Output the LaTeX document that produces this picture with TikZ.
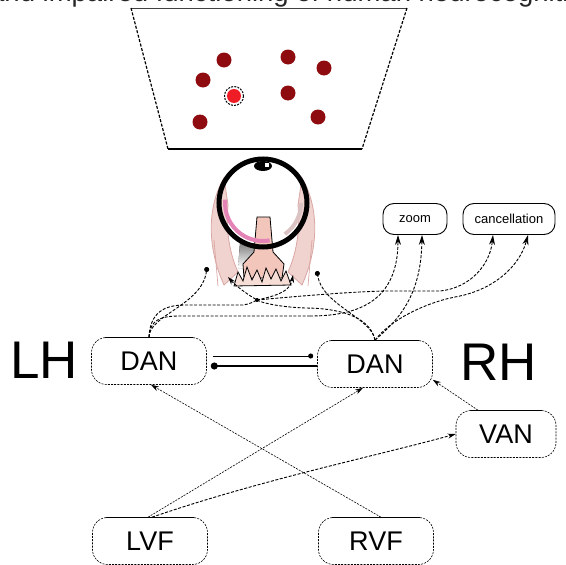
\documentclass[tikz,border=0pt]{standalone}
\usepackage{fontspec}
\setmainfont{Liberation Sans}
\usetikzlibrary{arrows.meta,calc}
\definecolor{dotred}{HTML}{8E0C10}
\definecolor{hotred}{HTML}{EE1C24}
\definecolor{lobe}{HTML}{F0D2CE}
\definecolor{lobeedge}{HTML}{D9A7A4}
\definecolor{stalk}{HTML}{F3C6BC}
\definecolor{chiasm}{HTML}{F6DDD6}
\definecolor{shade}{HTML}{7F8C8A}
\definecolor{retina}{HTML}{E483B5}
\definecolor{retinab}{HTML}{DCC3C3}
\begin{document}
\begin{tikzpicture}[x=1pt,y=-1pt,
  dsh/.style={line width=0.9pt, dash pattern=on 3pt off 1.6pt},
  fine/.style={line width=0.6pt, dash pattern=on 2pt off 1.2pt},
  box/.style={draw, fine, rounded corners=15pt, minimum width=115pt,
    minimum height=47pt, inner sep=0pt, font=\fontsize{27}{27}\selectfont},
  tagbox/.style={draw, line width=0.9pt, rounded corners=11pt,
    minimum height=31pt, inner sep=0pt, font=\fontsize{13}{13}\selectfont},
  big/.style={font=\fontsize{53}{53}\selectfont},
  tip/.style={-{Stealth[length=10pt,width=6pt]}},
  smalltip/.style={-{Stealth[length=8pt,width=5pt]}},
  dottip/.style={-{Circle[length=5pt]}},
]
\useasboundingbox (0,0) rectangle (566,565);
\clip (0,0) rectangle (566,565);

% caption line running off the top edge
\node[anchor=base west, inner sep=0pt, text=black!85,
  font=\fontsize{27.5}{27.5}\selectfont] (caption) at (-11,1)
  {and impaired functioning of human neurocognition};

% screen with targets
\draw[line width=0.9pt, black!75] (131,8) -- (407,8);
\draw[line width=1.3pt] (168,149) -- (362,149);
\draw[dsh, line width=1.2pt] (131,8) -- (168,149);
\draw[dsh, line width=1.2pt] (407,8) -- (362,149);
\foreach \p in {(224,60),(288,57),(324,68),(203,80),(288,93),(200,122),(318,117)}
  \fill[dotred] \p circle (7.5);
\fill[hotred] (234,96) circle (7);
\draw[line width=1pt, dash pattern=on 2pt off 1.2pt] (234,96) circle (9.5);

% eye and visual pathway
\fill[lobe, draw=lobeedge, line width=0.8pt]
  (224,178) .. controls (208,205) and (206,245) .. (224,285)
  -- (238,272) .. controls (228,250) and (226,225) .. (228,205) -- cycle;
\fill[lobe, draw=lobeedge, line width=0.8pt]
  (302,178) .. controls (318,205) and (320,245) .. (302,285)
  -- (288,272) .. controls (298,250) and (300,225) .. (298,205) -- cycle;
\draw[lobeedge, line width=0.7pt] (214,240) -- (218,286);
\draw[lobeedge, line width=0.7pt] (312,240) -- (308,286);
\fill[shade] (240,243) -- (254,243) -- (254,268) -- (238,268) -- cycle;
\filldraw[fill=stalk, draw=black, line width=0.8pt]
  (257,217) -- (270,217) -- (273,252) -- (284,264) -- (282,278)
  -- (244,278) -- (243,264) -- (254,252) -- cycle;
\filldraw[fill=chiasm, draw=black, line width=0.8pt]
  (234,286) -- (238,272) -- (243,281) -- (247,267) -- (252,280) -- (257,270)
  -- (262,282) -- (266,268) -- (271,279) -- (276,269) -- (281,281)
  -- (286,271) -- (291,285) -- cycle;
% retina (angles run clockwise because the y axis points down)
\draw[retina, line width=4pt] (263,203) ++(185:38) arc (185:80:38);
\draw[retinab, line width=4pt] (263,203) ++(0:38) arc (0:55:38);
\draw[line width=5pt] (263,203) circle (44);
\fill (263,166) ellipse (9 and 5);
\fill[white] (265,163) rectangle (269,167);

% points where the pathways end
\coordinate (ldot) at (207,267);
\coordinate (larr) at (228,277);
\coordinate (rarr) at (293,275);
\coordinate (rdot) at (317,271);
\coordinate (mid) at (257,300);

% nodes
\node[big] (lh) at (44,360) {LH};
\node[big] (rh) at (499,362) {RH};
\node[box] (ldan) at (149,361) {DAN};
\node[box] (rdan) at (375,364) {DAN};
\node[box, minimum width=100pt] (van) at (506,434) {VAN};
\node[box] (lvf) at (150,541) {LVF};
\node[box] (rvf) at (376,541) {RVF};
\node[tagbox, minimum width=64pt] (zoom) at (415,219) {zoom};
\node[tagbox, minimum width=92pt] (cancel) at (509,219) {cancellation};
\foreach \n in {ldan,rdan,van,lvf,rvf}
  \draw[line width=0.9pt] ([xshift=14pt]\n.north west) -- ([xshift=-14pt]\n.north east);

% interhemispheric link: thin line ending on the right DAN, thick one leaving the left DAN
\draw[line width=1pt, -{Circle[length=5pt]}]
  ($(ldan.east)+(6,-5)$) -- ($(rdan.west)+(-4,-8)$);
\draw[line width=2pt, {Circle[length=7pt]}-]
  ($(ldan.east)+(4,5)$) -- ($(rdan.west)+(0,2)$);

% pathways from the left DAN
\draw[dsh, dottip] (ldan.north) .. controls (149,315) and (202,305) .. (ldot);
\draw[dsh] (ldan.north) .. controls (150,312) and (165,305) .. (185,305)
  -- (243,305) .. controls (250,304) and (253,302) .. (mid);
\draw[dsh, smalltip] (mid) .. controls (275,296) and (290,292) .. (rarr);
\draw[dsh] (ldan.north) .. controls (150,320) and (160,316) .. (180,316)
  -- (310,316);
\draw[dsh, tip] (310,316) .. controls (360,316) and (398,300) .. ([xshift=-17pt]zoom.south);
\draw[dsh, tip] (mid) .. controls (300,296) and (360,291) .. (390,291)
  -- (440,291) .. controls (470,288) and (490,265) .. ([xshift=-16pt]cancel.south);

% pathways from the right DAN
\draw[dsh, dottip] (rdan.north) .. controls (372,318) and (322,305) .. (rdot);
\draw[dsh, smalltip] (rdan.north) .. controls (370,315) and (335,308) .. (305,308)
  .. controls (280,307) and (262,303) .. (mid) .. controls (245,293) and (235,285) .. (larr);
\draw[dsh, tip] (rdan.north) .. controls (395,322) and (421,300) .. ([xshift=7pt]zoom.south);
\draw[dsh, tip] (rdan.north) .. controls (390,320) and (425,303) .. (455,297)
  .. controls (495,290) and (520,265) .. ([xshift=19pt]cancel.south);
\fill (mid) circle (2);

% visual field inputs
\draw[fine, smalltip] ([xshift=5pt]rvf.north) -- ([xshift=2pt]ldan.south);
\draw[fine, smalltip] ([xshift=-2pt]lvf.north) -- ([xshift=-12pt]rdan.south);
\draw[dsh, smalltip] ([xshift=2pt]lvf.north) .. controls (260,480) and (380,455) .. (van.west);
\draw[fine, smalltip] ([xshift=-28pt]van.north) -- ($(rdan.south east)+(0,-8)$);
\end{tikzpicture}
\end{document}
